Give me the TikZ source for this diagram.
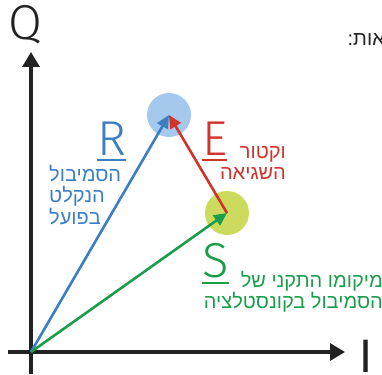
\documentclass[tikz,border=0pt]{standalone}
\usepackage{fontspec}
\setmainfont{Liberation Sans}
\newfontfamily\hebfont[Script=Hebrew]{Liberation Sans}
\newfontfamily\thinfont{Fira Sans Light}
\TeXXeTstate=1
\usetikzlibrary{arrows.meta}
\definecolor{axisgray}{HTML}{222222}
\definecolor{rblue}{HTML}{3C7EC4}
\definecolor{rcircle}{HTML}{A5C9EC}
\definecolor{ered}{HTML}{D0332A}
\definecolor{sgreen}{HTML}{1B9E4B}
\definecolor{scircle}{HTML}{CCDB5E}

\begin{document}
\begin{tikzpicture}[x=1pt,y=-1pt,
    axis/.style={line width=3.2pt,draw=axisgray,-{Triangle[length=15pt,width=17pt]}},
    vec/.style={line width=2.6pt,-{Triangle[length=13pt,width=12pt]}},
    symb/.style={circle,inner sep=0pt,minimum size=44pt},
    letter/.style={font=\thinfont\fontsize{49}{49}\selectfont,inner sep=0pt},
    heb/.style={font=\hebfont\fontsize{20}{21.5}\selectfont,inner sep=0pt}]
    \useasboundingbox (0,0) rectangle (382,374);
    % axes
    \coordinate (O) at (31,352);
    \coordinate (xend) at (345,352);
    \coordinate (yend) at (31,52);
    \draw[axis] (8,352) -- (xend);
    \draw[axis] (31,374) -- (yend);
    \node[letter,anchor=base west,axisgray] (Q) at (8,40) {Q};
    \node[font=\fontsize{47}{47}\selectfont,inner sep=0pt,anchor=base west,axisgray] (I) at (359,372) {I};
    \node[heb,anchor=base east,text=axisgray] (title) at (385,46) {\beginR אות:\endR};
    % received and ideal symbols
    \node[symb,fill=rcircle] (Rx) at (169,115) {};
    \node[symb,fill=scircle] (Sx) at (227,213) {};
    \draw[vec,rblue] (O) -- (Rx.center);
    \draw[vec,sgreen] (O) -- (Sx.center);
    \draw[vec,ered] (Sx.center) -- (Rx.center);
    % labels
    \node[letter,anchor=base west,rblue] (R) at (97,155) {R};
    \draw[rblue,line width=2pt] ([yshift=-5pt]R.base west) -- ([yshift=-5pt]R.base east);
    \node[letter,anchor=base west,ered] (E) at (202,155) {E};
    \draw[ered,line width=2pt] ([yshift=-5pt]E.base west) -- ([yshift=-5pt]E.base east);
    \node[letter,anchor=base west,sgreen] (S) at (202,277) {S};
    \draw[sgreen,line width=2pt] ([yshift=-6pt]S.base west) -- ([yshift=-6pt]S.base east);
    \node[heb,anchor=north west,text=rblue,align=left] (Rtxt) at (49,165)
        {\beginR הסמיבול\endR\\\beginR הנקלט\endR\\\beginR בפועל\endR};
    \node[heb,anchor=north east,text=ered,align=right] (Etxt) at (286,146)
        {\beginR וקטור\endR\\\beginR השגיאה\endR};
    \node[heb,anchor=north east,text=sgreen,align=right] (Stxt) at (383,271)
        {\beginR מיקומו התקני של\endR\\\beginR הסמיבול בקונסטלציה\endR};
\end{tikzpicture}
\end{document}
